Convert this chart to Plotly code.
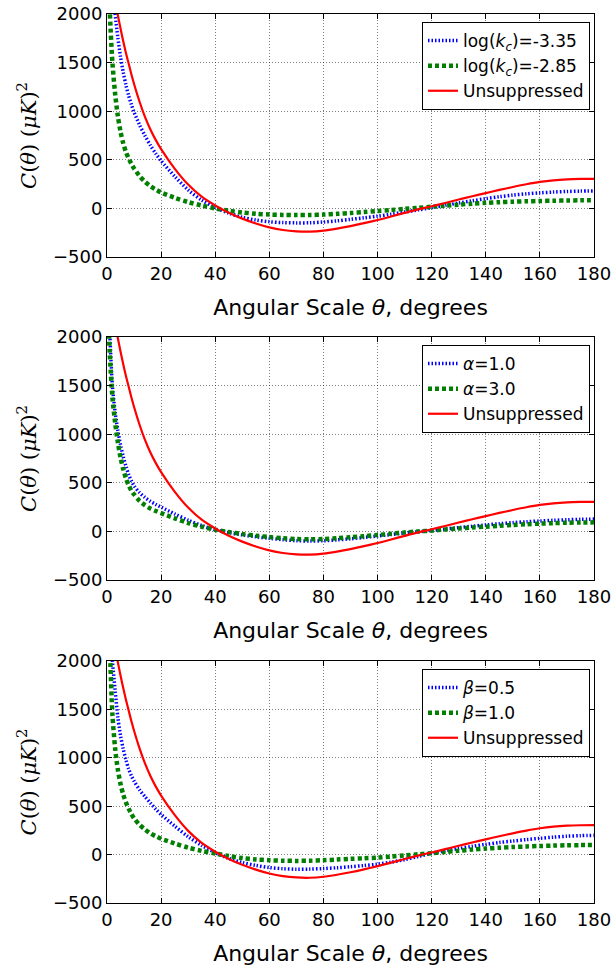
import plotly.graph_objects as go

theta = [0, 1, 2, 3, 4, 5, 6, 7, 8, 9, 10, 12, 14, 16, 18, 20, 25, 30, 35, 40, 45, 50, 55, 60,
         65, 70, 75, 80, 85, 90, 95, 100, 105, 110, 115, 120, 125, 130, 135, 140, 145, 150,
         155, 160, 165, 170, 175, 180]

unsuppressed = [2560, 2420, 2280, 2140, 1990, 1850, 1720, 1600, 1490, 1380, 1280, 1100, 945, 815,
                705, 610, 410, 245, 120, 30, -45, -105, -155, -195, -222, -236, -239, -229, -208,
                -182, -152, -119, -83, -46, -10, 22, 56, 91, 125, 157, 190, 220, 248, 272, 289,
                299, 303, 304]

logkc_m335 = [2900, 2600, 2300, 2000, 1760, 1560, 1400, 1270, 1160, 1070, 990, 860, 750, 650, 565,
              490, 330, 190, 85, 10, -48, -92, -120, -137, -146, -149, -148, -140, -128, -113,
              -97, -80, -60, -38, -15, 8, 32, 55, 78, 100, 120, 137, 150, 160, 168, 174, 178, 180]

logkc_m285 = [3000, 2050, 1500, 1180, 950, 790, 670, 580, 515, 460, 410, 335, 275, 230, 195, 165,
              110, 65, 30, 0, -25, -42, -55, -63, -67, -69, -68, -64, -56, -48, -38, -27, -16, -5,
              6, 17, 28, 39, 49, 57, 64, 69, 73, 76, 79, 81, 83, 84]

alpha_1 = [2700, 2050, 1500, 1230, 1040, 890, 770, 670, 585, 520, 470, 400, 350, 310, 278, 250,
           180, 115, 60, 17, -12, -36, -55, -71, -85, -95, -99, -96, -88, -76, -62, -47, -32, -16,
           -3, 9, 24, 39, 53, 66, 79, 90, 99, 107, 114, 120, 124, 127]

alpha_3 = [2600, 1850, 1380, 1120, 920, 760, 640, 545, 475, 420, 380, 315, 270, 235, 210, 188,
           135, 86, 48, 17, -7, -27, -44, -58, -70, -79, -82, -78, -70, -60, -49, -37, -24, -11,
           0, 8, 19, 30, 40, 49, 58, 66, 73, 80, 85, 89, 92, 93]

beta_05 = [2800, 2400, 2000, 1700, 1420, 1230, 1090, 980, 885, 815, 760, 670, 600, 535, 470, 415,
           295, 185, 95, 20, -40, -82, -112, -134, -146, -151, -150, -144, -136, -125, -113, -99,
           -78, -52, -20, 14, 40, 63, 86, 106, 125, 140, 155, 168, 180, 190, 196, 199]

beta_10 = [2700, 2150, 1450, 1100, 880, 730, 620, 540, 475, 420, 375, 310, 260, 220, 190, 164,
           115, 72, 38, 12, -15, -36, -50, -58, -63, -65, -63, -58, -51, -44, -38, -31, -20, -8,
           3, 14, 27, 40, 52, 62, 71, 78, 84, 89, 93, 96, 98, 99]

x_ticks = [0, 20, 40, 60, 80, 100, 120, 140, 160, 180]
y_ticks = [-500, 0, 500, 1000, 1500, 2000]

panels = [
    ("log(<i>k</i><sub><i>c</i></sub>)=-3.35", logkc_m335,
     "log(<i>k</i><sub><i>c</i></sub>)=-2.85", logkc_m285),
    ("<i>α</i>=1.0", alpha_1, "<i>α</i>=3.0", alpha_3),
    ("<i>β</i>=0.5", beta_05, "<i>β</i>=1.0", beta_10),
]

W, H = 616, 975
L, R, T, B = 107, 22, 14, 72
plot_h = H - T - B
panel_px = [(14, 257), (337, 580), (661, 903)]

def ypaper(px):
    return (H - B - px) / plot_h

fig = go.Figure()
layout = {}
for i, (lab_a, ser_a, lab_b, ser_b) in enumerate(panels):
    n = "" if i == 0 else str(i + 1)
    xa, ya, lg = "x" + n, "y" + n, "legend" + n
    common = dict(xaxis=xa, yaxis=ya, legend=lg, mode="lines")
    fig.add_trace(go.Scatter(x=theta, y=ser_a, name=lab_a,
                             line=dict(color="#0000ff", width=3.5, dash="1.5px,2px",
                                       shape="spline", smoothing=0.8),
                             **common))
    fig.add_trace(go.Scatter(x=theta, y=ser_b, name=lab_b,
                             line=dict(color="#007f00", width=4.5, dash="4px,3px",
                                       shape="spline", smoothing=0.8),
                             **common))
    fig.add_trace(go.Scatter(x=theta, y=unsuppressed, name="Unsuppressed",
                             line=dict(color="#ff0000", width=2.2, shape="spline",
                                       smoothing=0.8),
                             **common))
    top, bot = panel_px[i]
    axis_common = dict(showline=True, linecolor="black", linewidth=1, mirror="ticks",
                       ticks="inside", ticklen=5, tickcolor="black", automargin=False,
                       showgrid=True, gridcolor="rgba(0,0,0,0.5)", griddash="1px,2px",
                       gridwidth=1, zeroline=False,
                       tickfont=dict(family="DejaVu Sans", size=18, color="black"))
    layout["xaxis" + n] = dict(domain=[0, 1], anchor=ya, range=[0, 180],
                               tickvals=x_ticks,
                               title=dict(text="Angular Scale <i>θ</i>, degrees",
                                          font=dict(family="DejaVu Sans", size=22,
                                                    color="black"),
                                          standoff=17),
                               **axis_common)
    layout["yaxis" + n] = dict(domain=[ypaper(bot), ypaper(top)], anchor=xa,
                               range=[-500, 2000], tickvals=y_ticks,
                               title=dict(text="<i>C</i>(<i>θ</i>) (<i>μK</i>)<sup>2</sup>",
                                          font=dict(family="DejaVu Serif", size=21,
                                                    color="black"),
                                          standoff=10),
                               **axis_common)
    layout[lg] = dict(x=(590 - L) / (W - L - R), xanchor="right",
                      y=ypaper(top + 8), yanchor="top",
                      bgcolor="white", bordercolor="black", borderwidth=1,
                      font=dict(family="DejaVu Sans", size=17, color="black"),
                      tracegroupgap=0)

fig.update_layout(width=W, height=H, margin=dict(l=L, r=R, t=T, b=B, autoexpand=False),
                  paper_bgcolor="white", plot_bgcolor="white", showlegend=True,
                  **layout)

fig.write_html("out.html", config={"displayModeBar": False},
               post_script="document.body.style.margin='0';document.body.style.overflow='hidden';")
